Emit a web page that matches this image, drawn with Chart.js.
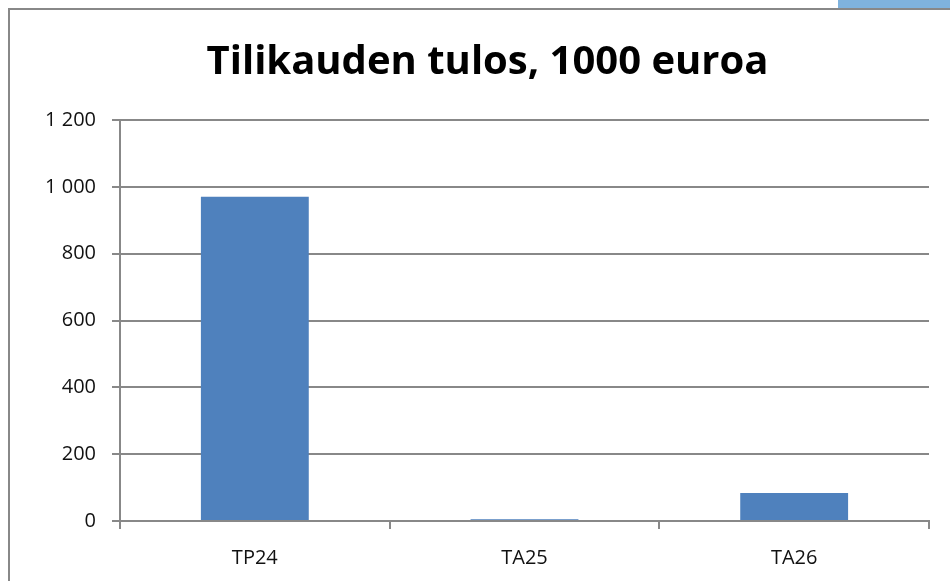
<!DOCTYPE html>
<html>
<head>
<meta charset="utf-8">
<script src="https://cdn.jsdelivr.net/npm/chart.js@4/dist/chart.umd.min.js"></script>
<style>
  html, body { margin: 0; padding: 0; background: #fff; }
  #wrap { position: relative; width: 950px; height: 581px; }
</style>
</head>
<body>
<div id="wrap"><canvas id="tulosChart" width="950" height="581"></canvas></div>
<script>
// data
const categories = ["TP24", "TA25", "TA26"];
const tulos = [970, 5, 84];
const yTicks = [0, 200, 400, 600, 800, 1000, 1200];

const GRID = "#888";
const LEFT_PAD = 46; // so the title centres over the framed box, not the canvas

// outer frame + little blue tab in the top right corner
const framePlugin = {
  id: "frame",
  beforeDraw(chart) {
    const ctx = chart.ctx;
    ctx.save();
    ctx.fillStyle = "#fff";
    ctx.fillRect(0, 0, chart.width, chart.height);
    ctx.strokeStyle = "#888";
    ctx.lineWidth = 2;
    ctx.strokeRect(9, 9, chart.width + 20, chart.height + 20);
    ctx.fillStyle = "#7fb3de";
    ctx.fillRect(838, 0, 112, 8);
    ctx.restore();
  }
};

function fmt(v) {
  return String(v).replace(/\B(?=(\d{3})+(?!\d))/g, " ");
}

new Chart(document.getElementById("tulosChart").getContext("2d"), {
  type: "bar",
  data: {
    labels: categories,
    datasets: [{
      data: tulos,
      backgroundColor: "#4f81bd",
      barPercentage: 0.4,
      categoryPercentage: 1.0
    }]
  },
  options: {
    responsive: false,
    animation: false,
    layout: { padding: { top: 39, right: 21, bottom: 0, left: LEFT_PAD } },
    plugins: {
      legend: { display: false },
      tooltip: { enabled: false },
      title: {
        display: true,
        text: "Tilikauden tulos, 1000 euroa",
        color: "#000",
        font: { family: "'Open Sans', sans-serif", size: 40, weight: "bold" },
        padding: { top: 0, bottom: 33 }
      }
    },
    scales: {
      x: {
        afterFit(scale) { scale.height = 60; },
        grid: { offset: true, drawOnChartArea: false, tickLength: 8, color: GRID, lineWidth: 2 },
        border: { color: GRID, width: 2 },
        ticks: { color: "#111", font: { family: "'Open Sans', sans-serif", size: 20 }, padding: 17 }
      },
      y: {
        min: 0,
        max: 1200,
        afterFit(scale) { scale.width = 120 - LEFT_PAD; },
        afterBuildTicks(scale) { scale.ticks = yTicks.map(v => ({ value: v })); },
        grid: { tickLength: 8, color: GRID, lineWidth: 2 },
        border: { color: GRID, width: 2 },
        ticks: {
          color: "#111",
          font: { family: "'Open Sans', sans-serif", size: 20 },
          padding: 16,
          callback: v => fmt(v)
        }
      }
    }
  },
  plugins: [framePlugin]
});
</script>
</body>
</html>
